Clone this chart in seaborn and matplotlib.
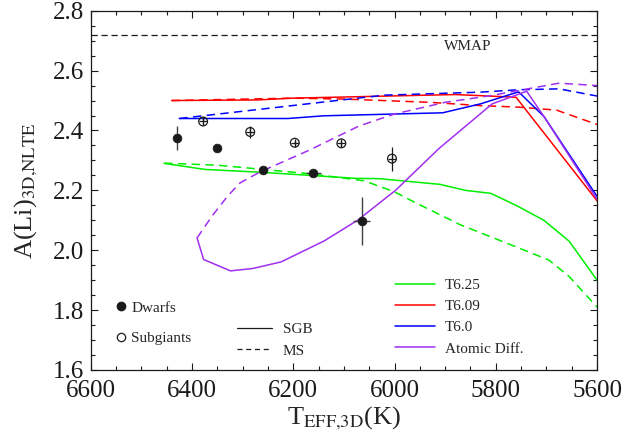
import numpy as np
import pandas as pd
import seaborn as sns
import matplotlib.pyplot as plt
from matplotlib.lines import Line2D
from matplotlib.ticker import MultipleLocator

# observed stars
dwarf_teff = [6430, 6350, 6260, 6160, 6065]
dwarf_ali = [2.375, 2.342, 2.267, 2.258, 2.097]
dwarf_terr = [0, 0, 5, 14, 17]
dwarf_aerr = [0.04, 0.0, 0.012, 0.0, 0.08]

sub_teff = [6378, 6285, 6197, 6105, 6005]
sub_ali = [2.43, 2.395, 2.359, 2.357, 2.306]
sub_aerr = [0.012, 0.02, 0.01, 0.012, 0.04]

wmap = 2.72

# model tracks, SGB = solid, MS = dashed
t625_sgb_t = [6455, 6375, 6260, 6075, 6030, 5910, 5860, 5810, 5760, 5705, 5655, 5600]
t625_sgb_a = [2.29, 2.27, 2.26, 2.24, 2.239, 2.22, 2.20, 2.19, 2.15, 2.10, 2.03, 1.90]
t625_ms_t = [6455, 6350, 6170, 6060, 6000, 5960, 5870, 5770, 5695, 5655, 5600]
t625_ms_a = [2.291, 2.284, 2.256, 2.232, 2.195, 2.16, 2.085, 2.018, 1.967, 1.912, 1.81]

t609_sgb_t = [6440, 6270, 6200, 5880, 5760, 5600]
t609_sgb_a = [2.50, 2.502, 2.508, 2.52, 2.511, 2.165]
t609_ms_t = [6440, 6200, 6100, 5930, 5830, 5755, 5680, 5600]
t609_ms_a = [2.50, 2.508, 2.505, 2.494, 2.483, 2.478, 2.468, 2.42]

t60_sgb_t = [6425, 6210, 6140, 5905, 5830, 5755, 5705, 5600]
t60_sgb_a = [2.44, 2.44, 2.449, 2.459, 2.489, 2.529, 2.447, 2.18]
t60_ms_t = [6425, 6130, 6020, 5830, 5755, 5675, 5600]
t60_ms_a = [2.44, 2.497, 2.518, 2.528, 2.536, 2.539, 2.515]

ad_sgb_t = [6390, 6377, 6324, 6280, 6224, 6139, 6073, 5998, 5912, 5807, 5739, 5705, 5600]
ad_sgb_a = [2.041, 1.969, 1.931, 1.939, 1.961, 2.031, 2.10, 2.20, 2.34, 2.489, 2.531, 2.447, 2.17]
ad_ms_t = [6390, 6360, 6330, 6305, 6265, 6170, 6070, 6000, 5900, 5815, 5750, 5675, 5600]
ad_ms_a = [2.041, 2.115, 2.18, 2.225, 2.262, 2.333, 2.415, 2.455, 2.494, 2.515, 2.535, 2.558, 2.55]

model_names = ['T6.25', 'T6.09', 'T6.0', 'Atomic Diff.']
model_colors = ['#00ee00', '#ff0000', '#0000ff', '#a030f0']

tracks = [
    ('T6.25', 'SGB', t625_sgb_t, t625_sgb_a), ('T6.25', 'MS', t625_ms_t, t625_ms_a),
    ('T6.09', 'SGB', t609_sgb_t, t609_sgb_a), ('T6.09', 'MS', t609_ms_t, t609_ms_a),
    ('T6.0', 'SGB', t60_sgb_t, t60_sgb_a), ('T6.0', 'MS', t60_ms_t, t60_ms_a),
    ('Atomic Diff.', 'SGB', ad_sgb_t, ad_sgb_a), ('Atomic Diff.', 'MS', ad_ms_t, ad_ms_a),
]
rows = []
for m, s, tt, aa in tracks:
    for i, (t, a) in enumerate(zip(tt, aa)):
        rows.append({'model': m, 'track': s, 'order': i, 'teff': t, 'ali': a})
df = pd.DataFrame(rows)

sns.set_theme(style='ticks')
plt.rcParams['font.family'] = ['Liberation Serif', 'DejaVu Serif']
plt.rcParams['mathtext.fontset'] = 'stix'

fig = plt.figure(figsize=(6.33, 4.34), dpi=100)
ax = fig.add_axes([0.1433, 0.1475, 0.7999, 0.8278])

dash_ms = (5.5, 3.5)
sns.lineplot(data=df, x='teff', y='ali', hue='model', style='track',
             hue_order=model_names, palette=model_colors,
             style_order=['SGB', 'MS'], dashes={'SGB': '', 'MS': dash_ms},
             sort=False, estimator=None, linewidth=1.1, legend=False, ax=ax)

ax.axhline(wmap, color='k', lw=0.9, dashes=(5, 3))
ax.text(5855, 2.68, 'WMAP', ha='center', va='center', fontsize=11)

# stars
ax.errorbar(dwarf_teff, dwarf_ali, xerr=dwarf_terr, yerr=dwarf_aerr, fmt='none',
            ecolor='0.25', elinewidth=1.0, capsize=0)
sns.scatterplot(x=dwarf_teff, y=dwarf_ali, color='k', marker='o', s=40,
                edgecolor='k', linewidth=0.5, ax=ax, zorder=5)
ax.errorbar(sub_teff, sub_ali, yerr=sub_aerr, fmt='none',
            ecolor='k', elinewidth=0.9, capsize=0)
ax.scatter(sub_teff, sub_ali, s=40, facecolors='none', edgecolors='k', linewidths=0.9, zorder=5)
ax.scatter(sub_teff, sub_ali, s=40, marker='+', color='k', linewidths=0.9, zorder=5)

ax.set_xlim(6600, 5600)
ax.set_ylim(1.6, 2.8)
ax.xaxis.set_major_locator(MultipleLocator(200))
ax.xaxis.set_minor_locator(MultipleLocator(50))
ax.yaxis.set_major_locator(MultipleLocator(0.2))
ax.yaxis.set_minor_locator(MultipleLocator(0.05))
ax.yaxis.set_major_formatter(plt.FormatStrFormatter('%.1f'))
ax.tick_params(which='both', direction='in', top=True, right=True, colors='k',
               labelsize=18, width=0.8)
ax.tick_params(which='major', length=5)
ax.tick_params(which='minor', length=3)
ax.tick_params(axis='x', pad=7)
ax.tick_params(axis='y', pad=5)
for sp in ax.spines.values():
    sp.set_linewidth(0.9)
    sp.set_color('k')

ax.set_xlabel(r'T$_{\mathrm{EFF{,}3D}}$(K)', fontsize=19, labelpad=2)
ax.set_ylabel(r'A(Li)$_{\mathrm{3D{,}NLTE}}$', fontsize=19, labelpad=9)

# legends
h_models = [Line2D([], [], color=c, lw=1.1) for c in model_colors]
leg1 = ax.legend(h_models, model_names, loc='upper left', bbox_to_anchor=(0.601, 0.254),
                 frameon=False, fontsize=11, handlelength=2.6, handletextpad=0.65,
                 labelspacing=0.48, borderpad=0, borderaxespad=0)
ax.add_artist(leg1)

h_stars = [Line2D([], [], ls='none', marker='o', color='k', ms=6),
           Line2D([], [], ls='none', marker='o', mfc='none', mec='k', ms=6, mew=0.9)]
leg2 = ax.legend(h_stars, ['Dwarfs', 'Subgiants'], loc='upper left', bbox_to_anchor=(0.05, 0.192),
                 frameon=False, fontsize=11, handlelength=0.6, handletextpad=0.4,
                 labelspacing=1.1, borderpad=0, borderaxespad=0)
ax.add_artist(leg2)

h_tracks = [Line2D([], [], color='k', lw=0.9),
            Line2D([], [], color='k', lw=0.9, dashes=(4, 3))]
ax.legend(h_tracks, ['SGB', 'MS'], loc='upper left', bbox_to_anchor=(0.288, 0.132),
          frameon=False, fontsize=11, handlelength=2.33, handletextpad=0.7,
          labelspacing=0.5, borderpad=0, borderaxespad=0)

fig.savefig('out.png', dpi=100)
